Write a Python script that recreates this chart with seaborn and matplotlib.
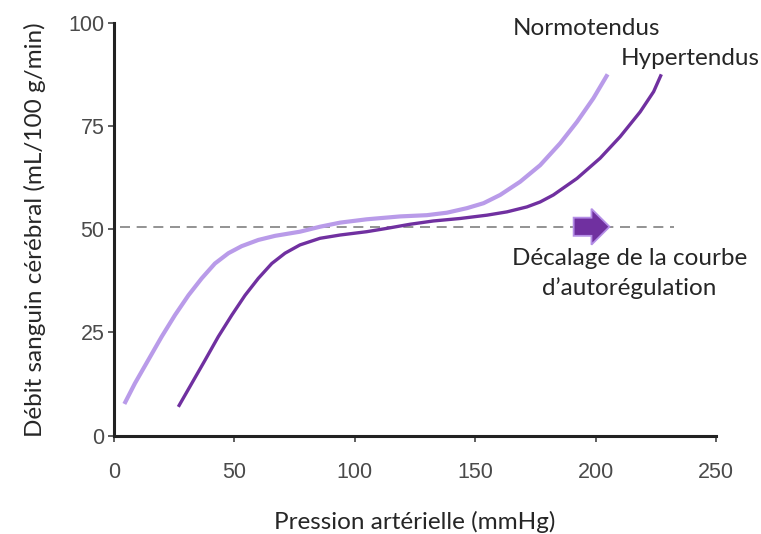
import pandas as pd
import matplotlib.pyplot as plt
import seaborn as sns
from matplotlib.patches import FancyArrow

# Courbe d'autoregulation
normo_x = [4.3, 8.7, 14.2, 19.8, 25.3, 30.9, 36.4, 41.9, 47.5, 53.0, 59.9, 66.9,
           77.2, 85.5, 93.9, 104.9, 118.8, 129.9, 138.2, 146.5, 153.4, 160.3,
           168.6, 176.9, 185.2, 192.2, 199.0, 204.9]
normo_y = [7.7, 12.7, 18.3, 24.0, 29.2, 34.0, 38.1, 41.7, 44.2, 45.9, 47.4, 48.4,
           49.4, 50.6, 51.6, 52.4, 53.1, 53.4, 54.0, 55.1, 56.3, 58.3,
           61.5, 65.5, 70.8, 76.0, 81.7, 87.5]

hyper_x = [26.7, 32.3, 37.8, 43.3, 48.9, 54.4, 59.9, 65.5, 71.0, 77.2, 85.5,
           93.9, 104.9, 113.2, 122.9, 132.6, 143.7, 154.8, 163.1, 171.4, 176.9,
           182.4, 192.2, 201.8, 210.1, 218.4, 224.0, 227.2]
hyper_y = [7.0, 12.7, 18.3, 24.0, 29.2, 34.0, 38.1, 41.7, 44.2, 46.2, 47.8,
           48.6, 49.4, 50.2, 51.2, 52.0, 52.6, 53.4, 54.2, 55.4, 56.6,
           58.3, 62.3, 67.2, 72.4, 78.4, 83.3, 87.5]

seuil_y = 50.6
seuil_x = [2.5, 232.5]
fleche_x = [190.8, 205.7]

couleurs = {'Normotendus': '#b99be9', 'Hypertendus': '#7030a0'}

df = pd.concat([
    pd.DataFrame({'pression': normo_x, 'debit': normo_y, 'groupe': 'Normotendus'}),
    pd.DataFrame({'pression': hyper_x, 'debit': hyper_y, 'groupe': 'Hypertendus'}),
])

sns.set_style('ticks')
plt.rcParams['font.family'] = ['Lato', 'DejaVu Sans']

fig = plt.figure(figsize=(7.61, 5.34), dpi=100)
ax = fig.add_axes([0.1498, 0.184, 0.7914, 0.7735])

ax.plot(seuil_x, [seuil_y, seuil_y], color='#808080', lw=1.2, ls=(0, (6, 4)), zorder=1)

sns.lineplot(data=df, x='pression', y='debit', hue='groupe', palette=couleurs,
             sort=False, estimator=None, legend=False, ax=ax)
for line, lw in zip(ax.get_lines()[1:], [3.0, 2.4]):
    line.set_linewidth(lw)
    line.set_solid_capstyle('butt')
    line.set_solid_joinstyle('round')

ax.add_patch(FancyArrow(fleche_x[0], seuil_y, fleche_x[1] - fleche_x[0], 0,
                        width=4.4, head_width=8.7, head_length=7.5,
                        length_includes_head=True, facecolor='#7030a0',
                        edgecolor='#b48ee6', lw=1.3, zorder=3))

ax.set_xlim(0, 250)
ax.set_ylim(0, 100)
ax.set_xticks([0, 50, 100, 150, 200, 250])
ax.set_yticks([0, 25, 50, 75, 100])
ax.tick_params(labelsize=15.5, labelcolor='#4a4a4a', color='#444444', length=4, width=1.2)
for lab in ax.get_xticklabels() + ax.get_yticklabels():
    lab.set_fontfamily('Liberation Sans')
ax.tick_params(axis='x', pad=15)
ax.tick_params(axis='y', pad=3)
sns.despine(ax=ax)
for sp in ['left', 'bottom']:
    ax.spines[sp].set_linewidth(2.2)
    ax.spines[sp].set_color('#222222')

ax.set_xlabel('Pression artérielle (mmHg)', fontsize=17.5, labelpad=20)
ax.set_ylabel('Débit sanguin cérébral (mL/100 g/min)', fontsize=17.5, labelpad=16)

ax.text(165.7, 98.7, 'Normotendus', fontsize=17.5, va='center', ha='left')
ax.text(210.3, 91.4, 'Hypertendus', fontsize=17.5, va='center', ha='left')
ax.text(214.0, 43.0, 'Décalage de la courbe', fontsize=17.5, va='center', ha='center')
ax.text(213.7, 35.8, 'd\u2019autorégulation', fontsize=17.5, va='center', ha='center')

fig.savefig('out.png', dpi=100)
